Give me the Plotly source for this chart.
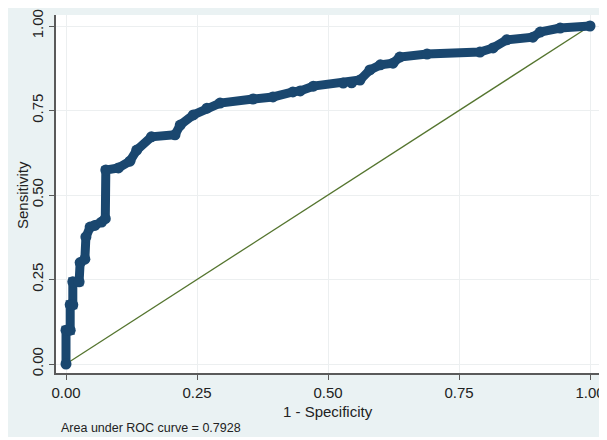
import plotly.graph_objects as go

# ROC curve points (1 - specificity, sensitivity)
fpr = [0.000, 0.000, 0.008, 0.008, 0.013, 0.013, 0.025, 0.027, 0.036, 0.038,
       0.046, 0.055, 0.068, 0.075, 0.076, 0.100, 0.122, 0.135, 0.163, 0.208,
       0.218, 0.243, 0.269, 0.294, 0.357, 0.395, 0.433, 0.447, 0.472, 0.529,
       0.545, 0.561, 0.580, 0.600, 0.624, 0.637, 0.689, 0.790, 0.815, 0.841,
       0.891, 0.905, 0.943, 1.000]
tpr = [0.000, 0.100, 0.100, 0.175, 0.175, 0.243, 0.243, 0.300, 0.310, 0.376,
       0.405, 0.410, 0.420, 0.430, 0.574, 0.580, 0.600, 0.633, 0.672, 0.678,
       0.707, 0.737, 0.757, 0.772, 0.784, 0.790, 0.805, 0.808, 0.822, 0.831,
       0.832, 0.840, 0.870, 0.885, 0.890, 0.908, 0.917, 0.923, 0.935, 0.959,
       0.967, 0.982, 0.994, 1.000]

ref_x = [0, 1]
ref_y = [0, 1]

tick_vals = [0, 0.25, 0.5, 0.75, 1.0]
tick_text = ["0.00", "0.25", "0.50", "0.75", "1.00"]

x_title = "1 - Specificity"
y_title = "Sensitivity"
auc_note = "Area under ROC curve = 0.7928"

# the page body adds an 8px offset, so the figure is drawn 8px smaller
OFF = 8
W, H = 607 - OFF, 440 - OFF
ML, MR, MT, MB = 56 - OFF, 7, 15 - OFF, 67
PW, PH = W - ML - MR, H - MT - MB

def px_x(p):  # window pixel -> paper x
    return (p - OFF - ML) / PW

def px_y(p):  # window pixel -> paper y
    return (H - MB - (p - OFF)) / PH

FONT = "Liberation Sans"
BG = "#eaf2f3"
AXC = "#5a5a5a"
GRID = "#eceff0"
TXT = "#222222"

fig = go.Figure()
fig.add_trace(go.Scatter(x=ref_x, y=ref_y, mode="lines",
                         line=dict(color="#55752f", width=1.3),
                         hoverinfo="skip", showlegend=False))
fig.add_trace(go.Scatter(x=fpr, y=tpr, mode="lines+markers",
                         line=dict(color="#1a476f", width=9),
                         marker=dict(color="#1a476f", size=11, symbol="circle"),
                         showlegend=False))

# outer graph region (light bluish grey) and white plot region
fig.add_shape(type="rect", xref="paper", yref="paper",
              x0=px_x(8), x1=px_x(603), y0=px_y(437), y1=px_y(8),
              fillcolor=BG, line=dict(width=0), layer="below")
fig.add_shape(type="rect", xref="paper", yref="paper",
              x0=0, x1=1, y0=0, y1=1,
              fillcolor="white", line=dict(width=0), layer="below")

fig.add_annotation(text=auc_note, xref="paper", yref="paper",
                   x=px_x(59), y=px_y(428), xanchor="left", yanchor="middle",
                   showarrow=False, font=dict(family=FONT, size=12.5, color=TXT))
fig.add_annotation(text=x_title, xref="paper", yref="paper",
                   x=px_x(328), y=px_y(411), xanchor="center", yanchor="middle",
                   showarrow=False, font=dict(family=FONT, size=15, color=TXT))
fig.add_annotation(text=y_title, xref="paper", yref="paper", textangle=-90,
                   x=px_x(22), y=px_y(195), xanchor="center", yanchor="middle",
                   showarrow=False, font=dict(family=FONT, size=15, color=TXT))

fig.update_layout(
    width=W, height=H,
    margin=dict(l=ML, r=MR, t=MT, b=MB, autoexpand=False),
    paper_bgcolor="white", plot_bgcolor="white",
    font=dict(family=FONT, size=15, color=TXT),
)
fig.update_xaxes(range=[-10 / 524, 1 + 10 / 524], tickvals=tick_vals, ticktext=tick_text,
                 showgrid=True, gridcolor=GRID, gridwidth=1, zeroline=False,
                 showline=True, linecolor=AXC, linewidth=1.5, automargin=False,
                 ticks="outside", ticklen=5, tickcolor=AXC, tickwidth=1,
                 ticklabelstandoff=0,
                 tickfont=dict(family=FONT, size=15, color=TXT))
fig.update_yaxes(range=[-9 / 338, 1 + 11 / 338], tickvals=tick_vals, ticktext=tick_text,
                 showgrid=True, gridcolor=GRID, gridwidth=1, zeroline=False,
                 showline=True, linecolor=AXC, linewidth=1.5, automargin=False,
                 ticks="outside", ticklen=5, tickcolor=AXC, tickwidth=1,
                 tickangle=-90, tickfont=dict(family=FONT, size=15, color=TXT))

fig.write_html("out.html")
